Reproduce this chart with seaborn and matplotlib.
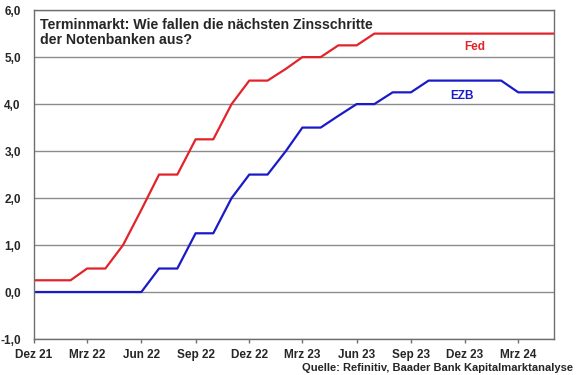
import matplotlib
matplotlib.use("Agg")
import matplotlib.pyplot as plt
import pandas as pd
import seaborn as sns

sns.set_style("white")
plt.rcParams['font.family'] = ['Liberation Sans', 'DejaVu Sans']

# monthly values, Dez 21 .. Mai 24
months = pd.date_range("2021-12-01", periods=30, freq="MS")
fed = [0.25, 0.25, 0.25, 0.5, 0.5, 1.0, 1.75, 2.5, 2.5, 3.25, 3.25, 4.0, 4.5, 4.5, 4.75,
       5.0, 5.0, 5.25, 5.25, 5.5, 5.5, 5.5, 5.5, 5.5, 5.5, 5.5, 5.5, 5.5, 5.5, 5.5]
ezb = [0.0, 0.0, 0.0, 0.0, 0.0, 0.0, 0.0, 0.5, 0.5, 1.25, 1.25, 2.0, 2.5, 2.5, 3.0,
       3.5, 3.5, 3.75, 4.0, 4.0, 4.25, 4.25, 4.5, 4.5, 4.5, 4.5, 4.5, 4.25, 4.25, 4.25]
xtick_labels = ["Dez 21", "Mrz 22", "Jun 22", "Sep 22", "Dez 22",
                "Mrz 23", "Jun 23", "Sep 23", "Dez 23", "Mrz 24"]
yticks = [-1, 0, 1, 2, 3, 4, 5, 6]

df = pd.DataFrame({
    "Datum": list(months) * 2,
    "Zins": fed + ezb,
    "Bank": ["Fed"] * len(fed) + ["EZB"] * len(ezb),
})

red = "#e3232a"
blue = "#1a1ac8"

fig = plt.figure(figsize=(5.8, 3.75), dpi=100)
ax = fig.add_axes([0.0586, 0.096, 0.897, 0.877])

sns.lineplot(data=df, x="Datum", y="Zins", hue="Bank",
             palette={"Fed": red, "EZB": blue}, linewidth=1.6, legend=False, ax=ax)

ax.set_xlim(months[0], months[-1])
ax.set_ylim(-1, 6)
ax.set_yticks(yticks)
ax.set_yticklabels([f"{v:.1f}".replace(".", ",") for v in yticks],
                   fontsize=8.5, fontweight="bold")
ax.set_xticks(months[::3])
ax.set_xticklabels(xtick_labels, fontsize=8.5, fontweight="bold")
ax.set_xlabel("")
ax.set_ylabel("")
ax.yaxis.grid(True, color="#8c8c8c", linewidth=1)
ax.xaxis.grid(False)
for s in ax.spines.values():
    s.set_color("#6e6e6e")
    s.set_linewidth(1)
ax.tick_params(axis="x", bottom=True, length=3, width=1, color="#6e6e6e", pad=4)
ax.tick_params(axis="y", left=False, pad=6)

ax.text(0.012, 0.975, "Terminmarkt: Wie fallen die nächsten Zinsschritte\nder Notenbanken aus?",
        transform=ax.transAxes, ha="left", va="top", fontsize=10.2, fontweight="bold",
        linespacing=1.1)
ax.text(months[24], 5.15, "Fed", color=red, fontsize=8.5, fontweight="bold", ha="left")
ax.text(months[23] + pd.Timedelta(days=5), 4.1, "EZB", color=blue, fontsize=8.5,
        fontweight="bold", ha="left")
fig.text(0.988, 0.005, "Quelle: Refinitiv, Baader Bank Kapitalmarktanalyse",
         ha="right", va="bottom", fontsize=8, fontweight="bold")

plt.savefig("out.png", dpi=100)
